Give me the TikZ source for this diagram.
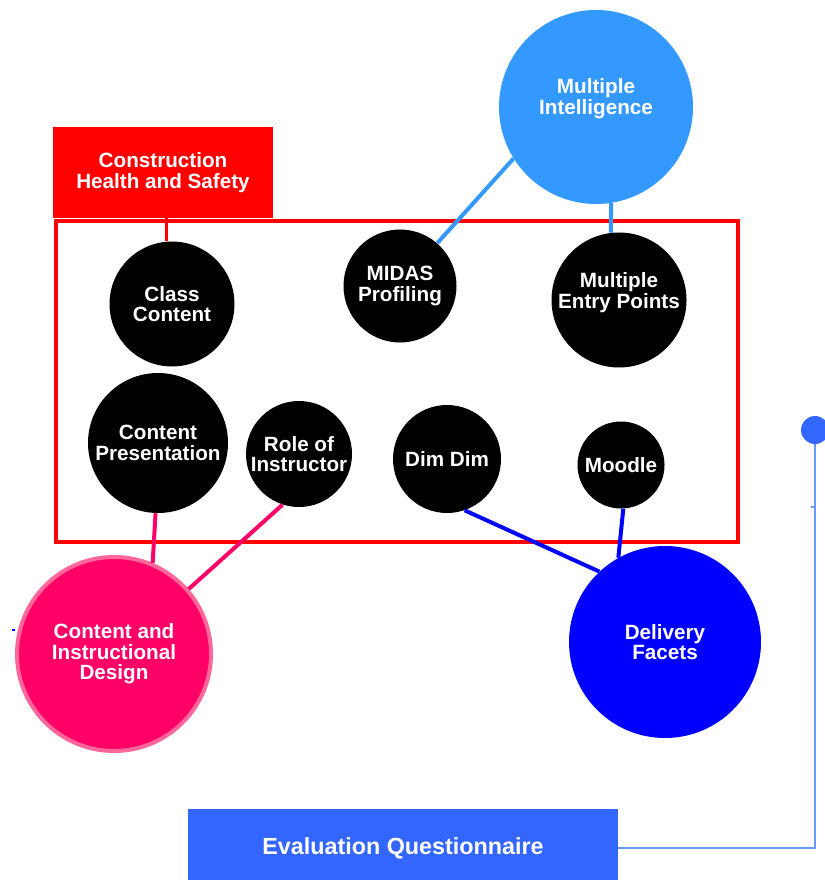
\documentclass[tikz,border=0pt]{standalone}
\usepackage{fontspec}
\setmainfont{Liberation Sans}
\usetikzlibrary{calc}

\definecolor{boxred}{HTML}{FF0000}
\definecolor{miblue}{HTML}{3399FF}
\definecolor{dfblue}{HTML}{0000FF}
\definecolor{cidpink}{HTML}{FF0066}
\definecolor{cidrim}{HTML}{FF6699}
\definecolor{evalblue}{HTML}{3366FF}
\definecolor{linkblue}{HTML}{6699FF}

\tikzset{
  topic/.style={circle, fill=black, text=white, inner sep=0pt, align=center,
    font=\bfseries\fontsize{15.5}{15.5}\selectfont},
  diam/.style={minimum size=#1*0.75pt},
  spoke/.style={line width=3pt},
}

\begin{document}
\begin{tikzpicture}[x=0.75pt, y=-0.75pt]
          \useasboundingbox (0,0) rectangle (824,880);

          \draw [boxred, line width=2.6pt] (56,221) rectangle (738,542); % red frame round the topics

          \node [fill=boxred, text=white, align=center, minimum width=220*0.75pt, minimum height=91*0.75pt,
                 font=\bfseries\fontsize{15.5}{15.5}\selectfont] (chs) at (163,172.5) {Construction\\Health and Safety};

          \node [topic, fill=miblue, diam=194, text depth=16pt] (mi) at (596,107) {Multiple\\Intelligence};

          \node [topic, diam=125] (cc) at (172,304) {Class\\Content};
          \node [topic, diam=113] (midas) at (400,286) {MIDAS\\Profiling};
          \node [topic, diam=135, text depth=14pt] (mep) at (619,300) {Multiple\\Entry Points};

          \node [topic, diam=140] (cp) at (158,443) {Content\\Presentation};
          \node [topic, diam=106] (role) at (299,454) {Role of\\Instructor};
          \node [topic, diam=108] (dd) at (447,459) {Dim Dim};
          \node [topic, diam=87] (moodle) at (621,465) {Moodle};

          \node [topic, fill=cidpink, draw=cidrim, line width=3pt, diam=194] (cid) at (114,654) {Content and\\Instructional\\Design};
          \node [topic, fill=dfblue, diam=192] (df) at (665,642) {Delivery\\Facets};

          \node [fill=evalblue, text=white, minimum width=430*0.75pt, minimum height=78*0.75pt,
                 font=\bfseries\fontsize{17.5}{17.5}\selectfont] (eq) at (403,848) {Evaluation Questionnaire};
          \node [circle, fill=evalblue, inner sep=0pt, diam=28] (dot) at (815,430) {};

          \draw [boxred, line width=2.4pt] (cc.95) -- (cc.95 |- chs.south);

          \draw [spoke, miblue] (mi.212) -- (midas.49);
          \draw [spoke, miblue] (mi.279) -- (mep.97);

          \draw [spoke, cidpink] (cp.268) -- (cid.67);
          \draw [spoke, cidpink] (role.252) -- (cid.41);

          \draw [spoke, dfblue] (dd.289) -- (df.133);
          \draw [spoke, dfblue] (moodle.273) -- (df.119);

          \draw [linkblue, line width=1.1pt] (eq.east) -| (dot);

          % small stubs left over on the circle and the feed line
          \coordinate (stub) at (12,630);
          \draw [dfblue, line width=1.5pt] (stub) -- (stub -| cid.west);
          \coordinate (nick) at (811,507);
          \draw [linkblue, line width=1.1pt] (nick) -- (nick -| dot);
        \end{tikzpicture}
\end{document}
